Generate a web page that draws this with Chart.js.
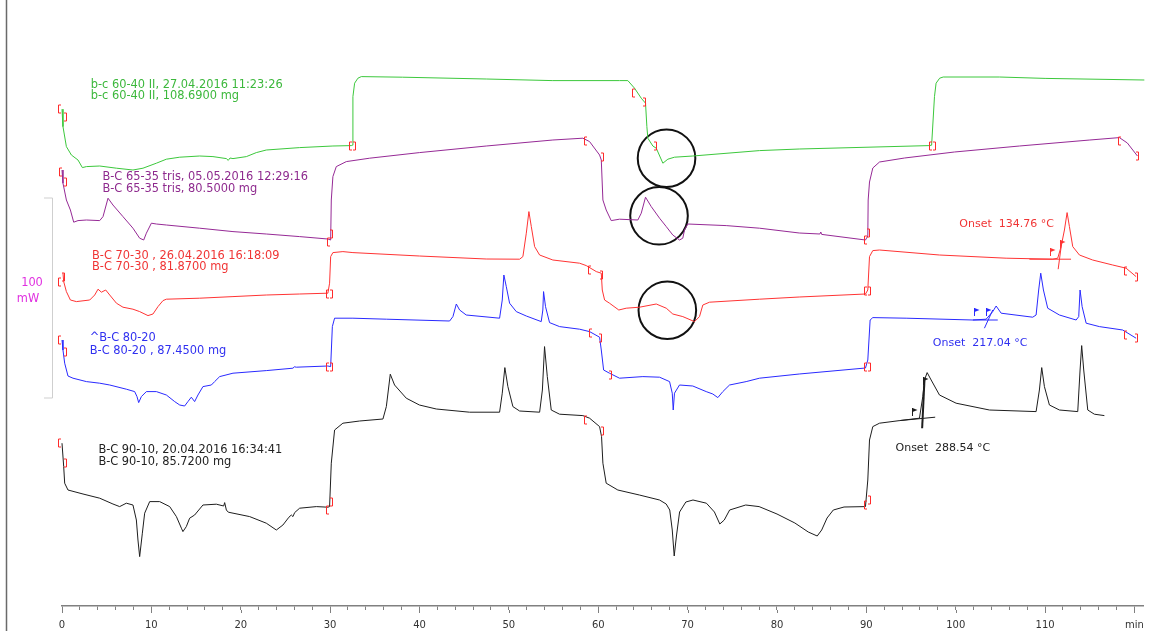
<!DOCTYPE html>
<html>
<head>
<meta charset="utf-8">
<title>DSC B-C</title>
<script src="https://cdn.jsdelivr.net/npm/chart.js@4.4.1/dist/chart.umd.min.js"></script>
<style>
  html, body { margin: 0; padding: 0; background: #fff; }
</style>
</head>
<body>
<canvas id="dsc" width="1153" height="631"></canvas>
<script>
// time in min, heat flow in mW (curves are stacked with offsets)
const tickLabels = ['0', '10', '20', '30', '40', '50', '60', '70', '80', '90', '100', '110', 'min'];
const minorStep = 2;

const green6040 = [
  [0, 248.4], [0.11, 239.7], [0.49, 229.7], [1.05, 225.5], [1.79, 223], [2.28, 219.2], [2.73, 219.7],
  [4.22, 220], [6.09, 218.9], [7.94, 218], [9.06, 218.9], [10.56, 221.4], [11.68, 223.4], [13.17, 224.4],
  [15.4, 225], [16.89, 224.7], [18.39, 223.7], [18.6, 222.8], [18.8, 224], [19.13, 223.7], [20.63, 224.7],
  [21.74, 226.7], [22.86, 228], [26.59, 229.2], [30.31, 230], [32.37, 230.2], [32.5, 230.4], [32.55, 254.7],
  [32.74, 261.4], [33.11, 263.9], [33.49, 264.7], [38.11, 264.4], [47.47, 263.5], [54.85, 262.7], [62.38, 262.7],
  [63.31, 262.7], [64.06, 258.9], [64.81, 253.9], [65.29, 251.4], [65.44, 239.7], [65.55, 233.9], [66.11, 230],
  [66.49, 228.9], [67.23, 221.4], [67.79, 223.4], [68.53, 224.4], [70.58, 225], [78.04, 227.7], [82.49, 228.5],
  [97.0, 230.2], [97.3, 230.4], [97.62, 254.7], [97.8, 261.4], [98.2, 263.9], [98.6, 264.5], [104.89, 264.5],
  [110, 263.8], [121.1, 263]
];

const purple6535 = [
  [0, 218], [0.11, 211.4], [0.49, 203], [0.94, 198], [1.31, 191.9], [1.79, 192.7], [2.73, 193], [4.22, 192.7],
  [4.59, 194.7], [5.15, 203.9], [5.7, 200.5], [6.82, 194.7], [7.94, 188.9], [8.69, 183.9], [9.14, 183],
  [9.44, 186.4], [10.0, 191.4], [10.56, 191], [11.68, 190.5], [15.4, 188.9], [19.13, 187.2], [22.86, 186],
  [26.59, 184.7], [29.75, 183.5], [30.06, 183], [30.13, 203], [30.31, 214.7], [30.69, 219.7], [31.81, 222.2],
  [34.42, 223.9], [39.99, 226.7], [47.47, 230], [54.92, 233], [58.28, 233.9], [59.03, 232.2], [60.15, 225.5],
  [60.34, 223], [60.52, 203], [60.89, 198], [61.45, 192.7], [62.38, 193.4], [64.43, 193], [64.81, 196.4],
  [65.29, 204.4], [65.93, 199.7], [66.86, 193.9], [67.61, 189.7], [68.34, 185.5], [69.09, 183], [69.46, 183.9],
  [69.65, 188], [70.02, 191], [74.32, 190.2], [78.04, 188.9], [82.49, 186.5], [84.8, 186], [84.9, 187],
  [85.0, 185.8], [89.9, 183], [90.16, 185], [90.2, 203], [90.35, 212], [90.72, 219], [91.47, 222], [94.27, 224],
  [99.85, 227], [107.13, 230], [115.0, 233], [118.31, 234.2], [119.2, 231.5], [120.33, 225]
];

const red7030 = [
  [0.11, 166.4], [0.19, 162.2], [0.49, 157.2], [0.94, 153], [1.61, 152.2], [3.1, 153], [3.66, 155.5],
  [4.03, 158.4], [4.41, 156.9], [4.89, 158], [5.34, 155.5], [6.09, 151.4], [6.82, 149.4], [7.94, 148.4],
  [8.69, 147.2], [9.62, 145.2], [10.18, 146], [10.74, 149.7], [11.3, 152.7], [11.68, 153.4], [15.4, 153.9],
  [19.13, 154.7], [22.86, 155.5], [26.59, 156], [29.75, 156.4], [29.94, 161.4], [30.06, 174.7], [30.31, 176.7],
  [31.43, 177.2], [32.55, 176.7], [39.99, 175], [47.47, 173.5], [51.2, 173.4], [51.57, 174.7], [51.95, 186.4],
  [52.24, 197.2], [52.51, 189.7], [52.88, 179.7], [53.44, 175.5], [54.92, 173], [57.91, 171.4], [58.66, 170.2],
  [59.78, 167.2], [60.34, 166.4], [60.45, 158], [60.71, 153], [61.26, 151.4], [62.3, 148], [63.13, 148.9],
  [64.62, 149.4], [66.49, 151], [67.61, 148.9], [68.34, 146], [69.46, 144.7], [70.77, 142.2], [71.33, 144.7],
  [71.7, 150.5], [72.45, 151.9], [78.04, 153.4], [82.49, 154.5], [89.9, 156], [90.16, 158], [90.35, 174.7],
  [90.72, 177.7], [91.47, 178], [98.18, 175.5], [105.64, 173.9], [110.85, 173.4], [111.41, 173.9],
  [111.79, 179.7], [112.16, 188], [112.46, 196.7], [112.72, 189.7], [113.09, 179.7], [113.84, 175.5],
  [115.32, 173], [117.56, 170.5], [119.06, 168.9], [120.18, 164.7]
];

const blue8020 = [
  [0, 133], [0.11, 128], [0.3, 121.4], [0.67, 115], [1.23, 113.9], [2.73, 112.2], [4.22, 111.4], [5.34, 110.5],
  [7.2, 108.4], [8.13, 107.2], [8.39, 104.7], [8.58, 101.7], [8.88, 104.7], [9.44, 107.2], [10.56, 107.2],
  [11.68, 105.5], [12.61, 102.2], [13.17, 100.5], [13.72, 100], [14.09, 102.2], [14.47, 104.4], [14.84, 102.2],
  [15.21, 105.5], [15.77, 109.7], [16.71, 110.5], [17.08, 112.2], [17.64, 114.7], [19.13, 116.4], [22.86, 117.7],
  [25.84, 118.9], [26.0, 119.6], [26.22, 119.4], [29.75, 120], [30.06, 119.7], [30.25, 139.7], [30.5, 143.9],
  [32.55, 143.9], [36.29, 143.4], [43.37, 142.5], [43.74, 144.7], [44.12, 151], [44.49, 148], [45.23, 145.5],
  [48.96, 143.9], [49.26, 153], [49.44, 165.5], [49.71, 159.7], [50.08, 151.4], [50.83, 147.2], [51.95, 145],
  [53.62, 142.2], [53.8, 148], [53.88, 157.2], [54.1, 149.7], [54.55, 141.7], [55.67, 139.7], [57.91, 138.4],
  [59.03, 137.2], [60.15, 134.4], [60.34, 128], [60.6, 118], [61.26, 116.4], [62.38, 113.9], [64.99, 114.7],
  [66.86, 114.4], [67.98, 112.2], [68.28, 106.4], [68.39, 98], [68.53, 106.4], [69.09, 110.5], [70.58, 110],
  [72.08, 107.2], [72.82, 106], [73.38, 104.2], [73.94, 107.2], [74.69, 110.5], [76.55, 112.2], [78.04, 113.9],
  [82.49, 116], [89.9, 119], [90.16, 123], [90.42, 143], [90.72, 144.2], [94.45, 143.9], [101.9, 143],
  [103.4, 143.4], [104.14, 147.2], [104.52, 150], [105.08, 146.4], [108.61, 144.4], [108.99, 145.5],
  [109.28, 158], [109.51, 166.4], [109.81, 158], [110.29, 148.9], [111.6, 145.5], [113.47, 143], [113.76, 144.7],
  [113.91, 158], [114.14, 149.7], [114.59, 141.4], [116.07, 139.7], [118.68, 138], [120.18, 133.9]
];

const black9010 = [
  [0, 81.4], [0.19, 69.7], [0.3, 61.4], [0.67, 58], [2.35, 56], [4.22, 53.9], [5.7, 51], [6.45, 49.7],
  [7.2, 51.4], [7.94, 50.5], [8.32, 43], [8.5, 33], [8.69, 24.7], [8.99, 36.4], [9.25, 46.4], [9.81, 52.2],
  [10.93, 52.2], [12.05, 49.7], [12.8, 44.7], [13.36, 38.9], [13.53, 37.2], [13.91, 39.7], [14.28, 43.9],
  [14.84, 45.5], [15.77, 50.5], [17.27, 50.9], [18.09, 50], [18.2, 51.7], [18.39, 48], [18.61, 46.9],
  [21.0, 44.7], [22.86, 41.4], [23.98, 38], [24.72, 40.5], [25.39, 44.4], [25.66, 45.5], [25.84, 44.7],
  [26.03, 46.7], [26.59, 48.9], [28.46, 49.7], [29.75, 49.4], [29.94, 49.7], [30.13, 71.4], [30.5, 88],
  [31.43, 91.4], [33.3, 92.5], [35.91, 93.5], [36.29, 99.7], [36.73, 115.9], [37.21, 110.5], [38.52, 103.9],
  [39.99, 100.5], [41.88, 98.5], [45.6, 96.9], [48.96, 96.9], [49.26, 106.4], [49.55, 119.2], [49.89, 109.7],
  [50.45, 99.7], [51.2, 97.5], [53.44, 96.9], [53.75, 108], [53.99, 129.7], [54.3, 114.7], [54.74, 98],
  [55.67, 95.9], [58.28, 95.2], [59.03, 93.9], [60.15, 89.7], [60.37, 84.7], [60.52, 71.4], [60.89, 61.4],
  [62.19, 58], [64.6, 55.5], [66.86, 53], [67.6, 51], [68.0, 48], [68.28, 38], [68.5, 25], [68.75, 35],
  [69.1, 47], [69.8, 52], [70.6, 53], [72.1, 51.4], [73.0, 47], [73.6, 41], [74.1, 43], [74.7, 48],
  [76.5, 50.5], [78.0, 49.7], [80.0, 46], [82.0, 41.5], [83.5, 37], [84.5, 35], [85.0, 38], [85.6, 44],
  [86.3, 48], [87.5, 49.5], [89.9, 49.7], [90.16, 63], [90.35, 83], [90.72, 89.7], [91.47, 91.4],
  [93.71, 92.7], [95.94, 93.9], [96.31, 104.7], [96.5, 113], [96.8, 116.7], [97.25, 113], [98.18, 105.5],
  [100.04, 101.4], [103.77, 98], [108.99, 97.2], [109.36, 108], [109.62, 119.2], [109.92, 109.7],
  [110.48, 100.5], [111.6, 98], [113.65, 97.2], [113.91, 118], [114.09, 130.2], [114.32, 118], [114.77, 98],
  [115.51, 95.9], [116.63, 95.2]
];

// segment limits "[" and "]" placed on each curve
const greenLimits = [[-0.37, 248.3, '['], [0.36, 244.5, ']'], [32.24, 229.8, '['], [32.68, 229.8, ']'],
  [63.89, 256.7, '['], [65.07, 252.2, ']'], [66.3, 230, ']'], [97.17, 230, '['], [97.62, 230, ']']];
const purpleLimits = [[-0.26, 217.2, '['], [0.3, 212.2, ']'], [29.75, 182.2, '['], [30.13, 186, ']'],
  [58.55, 232.5, '['], [60.45, 224.7, ']'], [89.82, 183, '['], [90.21, 186.5, ']'],
  [118.31, 232.5, '['], [120.33, 225, ']']];
const redLimits = [[-0.34, 162.2, '['], [0.11, 164.7, ']'], [29.69, 155.9, '['], [30.13, 155.9, ']'],
  [58.95, 168, '['], [60.34, 165.5, ']'], [89.82, 157.5, '['], [90.27, 157.5, ']'],
  [118.98, 167.7, '['], [120.18, 164.7, ']']];
const blueLimits = [[-0.34, 133, '['], [0.34, 127.2, ']'], [29.69, 119.5, '['], [30.13, 119.5, ']'],
  [59.1, 136.4, '['], [60.15, 133.9, ']'], [61.26, 115.5, ']'], [89.82, 119.5, '['], [90.27, 119.5, ']'],
  [118.98, 135.5, '['], [120.18, 133.9, ']']];
const blackLimits = [[-0.34, 81.4, '['], [0.34, 71.4, ']'], [29.69, 48, '['], [30.13, 51.9, ']'],
  [58.55, 93, '['], [60.45, 87.7, ']'], [89.82, 50.5, '['], [90.27, 53, ']']];

// onset evaluations: baseline, tangent, flags, result
const redBaseline = [[108.24, 173.4], [112.9, 173.4]];
const redTangent = [[111.46, 168.4], [111.87, 182.2]];
const redFlags = [[110.56, 176.7], [111.68, 180.5]];
const blueBaseline = [[101.9, 143], [104.7, 143]];
const blueTangent = [[103.21, 138.9], [104.14, 148]];
const blueFlags = [[102.06, 146.5], [103.4, 146.5]];
const blackBaseline = [[93.71, 92.7], [97.7, 94.4]];
const blackTangent = [[96.24, 88.9], [96.5, 113]];
const blackFlags = [[95.12, 96.4], [96.31, 112.2]];

const circleCentres = [[67.64, 223.9], [66.8, 195.1], [67.73, 147.9]];

const scaleBar = { from: 104, span: 100 };

const COLORS = {
  green: '#3cc83c', purple: '#962a96', red: '#ff3434', blue: '#2a2aff', black: '#1e1e1e'
};

// text: [time, mW, text, colour, font size]
const captions = [
  [3.22, 260.5, 'b-c 60-40 II, 27.04.2016 11:23:26', '#3cb83c', 11.4],
  [3.22, 255.0, 'b-c 60-40 II, 108.6900 mg', '#3cb83c', 11.4],
  [4.52, 214.4, 'B-C 65-35 tris, 05.05.2016 12:29:16', '#8e2a8e', 11.4],
  [4.52, 208.4, 'B-C 65-35 tris, 80.5000 mg', '#8e2a8e', 11.4],
  [3.36, 175.2, 'B-C 70-30 , 26.04.2016 16:18:09', '#f03434', 11.4],
  [3.36, 169.7, 'B-C 70-30 , 81.8700 mg', '#f03434', 11.4],
  [3.10, 133.9, '^B-C 80-20', '#3030f0', 11.4],
  [3.10, 127.7, 'B-C 80-20 , 87.4500 mg', '#3030f0', 11.4],
  [4.07, 78.0, 'B-C 90-10, 20.04.2016 16:34:41', '#222', 11.4],
  [4.07, 71.9, 'B-C 90-10, 85.7200 mg', '#222', 11.4],
  [100.4, 190.9, 'Onset  134.76 \u00b0C', '#f03434', 11],
  [97.43, 131.4, 'Onset  217.04 \u00b0C', '#3030f0', 11],
  [93.26, 78.9, 'Onset  288.54 \u00b0C', '#222', 11]
];

const pts = arr => arr.map(([x, y]) => ({ x, y }));

function curve(data, color, width) {
  return {
    data: pts(data),
    showLine: true,
    borderColor: color,
    borderWidth: width || 1,
    pointRadius: 0,
    tension: 0,
    clip: false
  };
}

const limitSets = [greenLimits, purpleLimits, redLimits, blueLimits, blackLimits];

const flagSets = [
  [redFlags, COLORS.red], [blueFlags, COLORS.blue], [blackFlags, COLORS.black]
];

const markup = {
  id: 'markup',
  beforeDraw(chart) {
    const ctx = chart.ctx;
    ctx.save();
    ctx.fillStyle = '#fff';
    ctx.fillRect(0, 0, chart.width, chart.height);
    ctx.strokeStyle = '#6a6a6a';
    ctx.lineWidth = 1.5;
    ctx.beginPath();
    ctx.moveTo(6.5, 0);
    ctx.lineTo(6.5, chart.height);
    ctx.stroke();
    ctx.restore();
  },
  afterDraw(chart) {
    const { ctx } = chart;
    const x = chart.scales.x;
    const y = chart.scales.y;
    ctx.save();

    // longer ticks every 10 min
    ctx.strokeStyle = '#808080';
    ctx.lineWidth = 1;
    const axisY = x.top;
    tickLabels.forEach((lbl, i) => {
      const px = Math.round(x.getPixelForValue(i * 10)) + 0.5;
      ctx.beginPath();
      ctx.moveTo(px, axisY + 4);
      ctx.lineTo(px, axisY + 7);
      ctx.stroke();
    });

    // 100 mW scale bar
    const barX = 52.5;
    const yTop = y.getPixelForValue(scaleBar.from + scaleBar.span);
    const yBot = y.getPixelForValue(scaleBar.from);
    ctx.strokeStyle = '#cfcfcf';
    ctx.beginPath();
    ctx.moveTo(44, yTop); ctx.lineTo(barX, yTop); ctx.lineTo(barX, yBot); ctx.lineTo(44, yBot);
    ctx.stroke();
    ctx.fillStyle = '#e030e0';
    ctx.font = '11.4px "DejaVu Sans"';
    ctx.textAlign = 'center';
    ctx.textBaseline = 'middle';
    const mid = (yTop + yBot) / 2;
    ctx.fillText('100', 32, mid - 15);
    ctx.fillText('mW', 28, mid + 1);

    // segment limits
    ctx.strokeStyle = '#ff2a2a';
    ctx.lineWidth = 1;
    limitSets.forEach((set) => {
      set.forEach(([t, v, s]) => {
        const px = Math.round(x.getPixelForValue(t));
        const py = Math.round(y.getPixelForValue(v));
        const dir = s === '[' ? 1 : -1;
        const bx = px - dir + 0.5;
        ctx.beginPath();
        ctx.moveTo(bx + 2.5 * dir, py - 4);
        ctx.lineTo(bx, py - 4);
        ctx.lineTo(bx, py + 4);
        ctx.lineTo(bx + 2.5 * dir, py + 4);
        ctx.stroke();
      });
    });

    // onset flags
    flagSets.forEach(([set, color]) => {
      ctx.strokeStyle = color;
      ctx.fillStyle = color;
      set.forEach(([t, v]) => {
        const px = Math.round(x.getPixelForValue(t)) + 0.5;
        const py = Math.round(y.getPixelForValue(v));
        ctx.beginPath();
        ctx.moveTo(px, py + 3);
        ctx.lineTo(px, py - 5);
        ctx.stroke();
        ctx.beginPath();
        ctx.moveTo(px, py - 5);
        ctx.lineTo(px + 5, py - 3);
        ctx.lineTo(px, py - 1);
        ctx.closePath();
        ctx.fill();
      });
    });

    // captions
    ctx.textAlign = 'left';
    ctx.textBaseline = 'middle';
    captions.forEach(([t, v, text, color, size]) => {
      ctx.font = size + 'px "DejaVu Sans"';
      ctx.fillStyle = color;
      ctx.fillText(text, x.getPixelForValue(t), y.getPixelForValue(v));
    });

    ctx.restore();
  }
};

new Chart(document.getElementById('dsc'), {
  type: 'scatter',
  data: {
    datasets: [
      curve(green6040, COLORS.green),
      curve(purple6535, COLORS.purple),
      curve(red7030, COLORS.red),
      curve(blue8020, COLORS.blue),
      curve(black9010, COLORS.black),
      curve(redBaseline, COLORS.red),
      curve(redTangent, COLORS.red),
      curve(blueBaseline, COLORS.blue),
      curve(blueTangent, COLORS.blue),
      curve(blackBaseline, COLORS.black),
      curve(blackTangent, COLORS.black, 2),
      {
        data: pts(circleCentres),
        showLine: false,
        pointRadius: 28.8,
        pointHoverRadius: 28.8,
        pointBorderWidth: 2,
        pointBorderColor: '#111',
        pointBackgroundColor: 'rgba(0,0,0,0)',
        clip: false
      }
    ]
  },
  options: {
    responsive: false,
    animation: false,
    events: [],
    layout: { autoPadding: false, padding: { left: 62, right: 9, top: 6, bottom: -9 } },
    plugins: { legend: { display: false }, tooltip: { enabled: false } },
    scales: {
      x: {
        type: 'linear',
        min: 0,
        max: 121,
        position: 'bottom',
        afterBuildTicks(scale) {
          const ticks = [];
          for (let v = 0; v <= 120; v += minorStep) ticks.push({ value: v });
          scale.ticks = ticks;
        },
        ticks: {
          autoSkip: false,
          maxRotation: 0,
          padding: 9,
          color: '#333',
          font: { family: 'DejaVu Sans', size: 10 },
          callback: (v) => (v % 10 === 0 ? tickLabels[v / 10] : '')
        },
        grid: {
          display: true,
          drawOnChartArea: false,
          drawTicks: true,
          tickLength: 4,
          color: '#808080'
        },
        border: { display: true, color: '#808080', width: 1.5 }
      },
      y: {
        type: 'linear',
        min: 0,
        max: 300,
        display: false
      }
    }
  },
  plugins: [markup]
});
</script>
</body>
</html>
